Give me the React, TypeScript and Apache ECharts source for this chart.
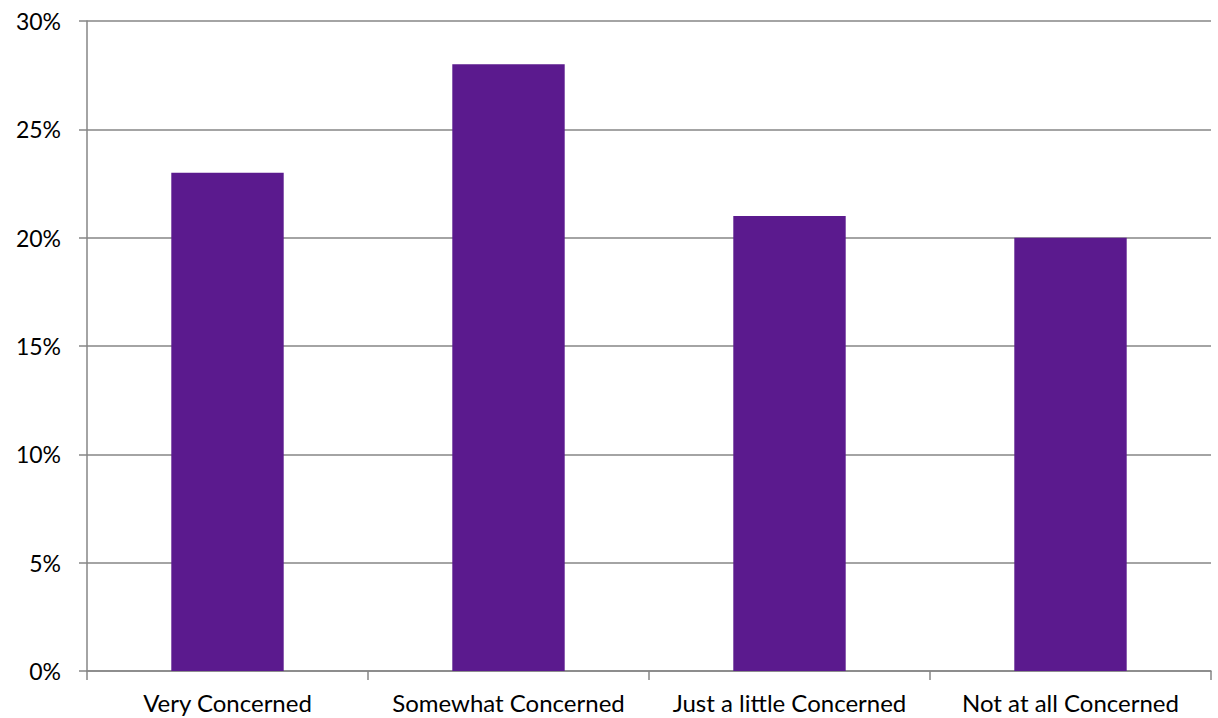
import React, { useEffect, useRef } from "react";
import * as echarts from "echarts";

const categories = ["Very Concerned", "Somewhat Concerned", "Just a little Concerned", "Not at all Concerned"];
const values = [23, 28, 21, 20];

export default function App() {
  const ref = useRef<HTMLDivElement>(null);
  useEffect(() => {
    const chart = echarts.init(ref.current!, null, { renderer: "svg" });
    const font = "Lato, 'Open Sans', sans-serif";
    chart.setOption({
      animation: false,
      grid: { left: 87, right: 7, top: 21, bottom: 47, containLabel: false },
      xAxis: {
        type: "category",
        data: categories,
        axisLine: { lineStyle: { color: "#868686", width: 1.5 } },
        axisTick: { show: true, length: 9, lineStyle: { color: "#868686", width: 1.5 } },
        axisLabel: { color: "#000", fontSize: 24, fontFamily: font, margin: 19, interval: 0 },
      },
      yAxis: {
        type: "value",
        min: 0,
        max: 30,
        interval: 5,
        axisLine: { show: true, lineStyle: { color: "#868686", width: 1.5 } },
        axisTick: { show: true, length: 8, lineStyle: { color: "#868686", width: 1.5 } },
        splitLine: { lineStyle: { color: "#868686", width: 1.5 } },
        axisLabel: { color: "#000", fontSize: 23, fontFamily: font, margin: 26, formatter: "{value}%" },
      },
      series: [
        {
          type: "bar",
          data: values,
          barWidth: "40%",
          itemStyle: { color: "#5B1A8E" },
        },
      ],
    });
    return () => chart.dispose();
  }, []);
  return <div ref={ref} style={{ position: "absolute", left: 0, top: 0, width: 1218, height: 718 }} />;
}
